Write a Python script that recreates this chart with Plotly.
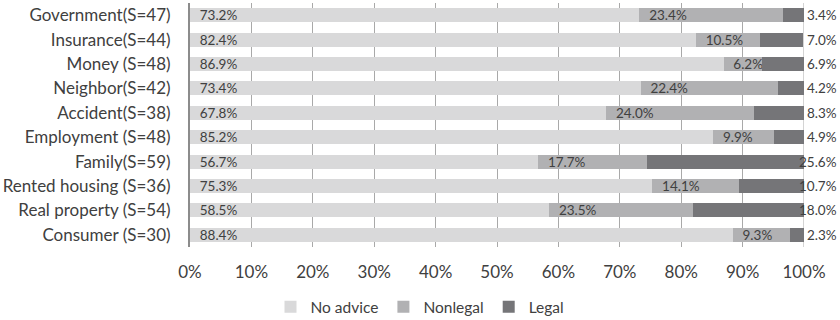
import plotly.graph_objects as go

# Share of respondents by type of advice received, per problem category
categories = [
    "Government(S=47)", "Insurance(S=44)", "Money (S=48)", "Neighbor(S=42)",
    "Accident(S=38)", "Employment (S=48)", "Family(S=59)",
    "Rented housing (S=36)", "Real property (S=54)", "Consumer (S=30)",
]
no_advice = [73.2, 82.4, 86.9, 73.4, 67.8, 85.2, 56.7, 75.3, 58.5, 88.4]
nonlegal = [23.4, 10.5, 6.2, 22.4, 24.0, 9.9, 17.7, 14.1, 23.5, 9.3]
legal = [3.4, 7.0, 6.9, 4.2, 8.3, 4.9, 25.6, 10.7, 18.0, 2.3]

x_ticks = list(range(0, 101, 10))
x_tick_labels = [f"{t}%" for t in x_ticks]

FONT = "Lato"
TEXT_COLOR = "#404040"
GRID_COLOR = "#a9a9a9"
PAD = "\u2002"

fig = go.Figure()

fig.add_trace(go.Bar(
    name="No advice", y=categories, x=no_advice, orientation="h",
    marker=dict(color="#d9d9da", line=dict(width=0)),
    text=[f"{PAD}{v:.1f}%" for v in no_advice],
    textposition="inside", insidetextanchor="start", constraintext="none",
    textfont=dict(family=FONT, size=13.5, color=TEXT_COLOR),
    hoverinfo="skip",
))
fig.add_trace(go.Bar(
    name="Nonlegal", y=categories, x=nonlegal, orientation="h",
    marker=dict(color="#b1b1b3", line=dict(width=0)),
    text=[f"{PAD}{v:.1f}%" for v in nonlegal],
    textposition="inside", insidetextanchor="start", constraintext="none",
    textfont=dict(family=FONT, size=13.5, color=TEXT_COLOR),
    hoverinfo="skip",
))
fig.add_trace(go.Bar(
    name="Legal", y=categories, x=legal, orientation="h",
    marker=dict(color="#757578", line=dict(width=0)),
    hoverinfo="skip",
))

# Legal shares are labelled just past the 100% line, right-aligned
for cat, v in zip(categories, legal):
    fig.add_annotation(
        x=100, y=cat, xref="x", yref="y", text=f"{v:.1f}%",
        showarrow=False, xanchor="right", xshift=35,
        font=dict(family=FONT, size=13.5, color=TEXT_COLOR),
    )

# Closing gridline at the 100% edge of the plot area
fig.add_shape(
    type="line", xref="x", yref="paper", x0=100, x1=100, y0=0, y1=1,
    line=dict(color=GRID_COLOR, width=1), layer="below",
)

fig.update_layout(
    width=840, height=320,
    margin=dict(l=190, r=36, t=3, b=73),
    barmode="stack", bargap=0.43,
    plot_bgcolor="white", paper_bgcolor="white",
    font=dict(family=FONT, size=14, color=TEXT_COLOR),
    legend=dict(
        orientation="h", xref="container", x=0.5, xanchor="center",
        yref="container", y=0.04, yanchor="middle",
        font=dict(family=FONT, size=15.5, color=TEXT_COLOR),
        traceorder="normal", itemwidth=30,
    ),
    showlegend=True,
)
fig.update_xaxes(
    range=[0, 100], tickvals=x_ticks, ticktext=x_tick_labels,
    showgrid=True, gridcolor=GRID_COLOR, gridwidth=1,
    zeroline=False, showline=False, ticks="",
    ticklabelstandoff=13,
    tickfont=dict(family=FONT, size=17, color=TEXT_COLOR),
    fixedrange=True,
)
fig.update_yaxes(
    autorange="reversed", showgrid=False, zeroline=False,
    showline=True, linecolor="#8c8c8c", linewidth=2, ticks="",
    ticklabelstandoff=14,
    tickfont=dict(family=FONT, size=17, color=TEXT_COLOR),
    fixedrange=True,
)

fig.write_html("out.html")
